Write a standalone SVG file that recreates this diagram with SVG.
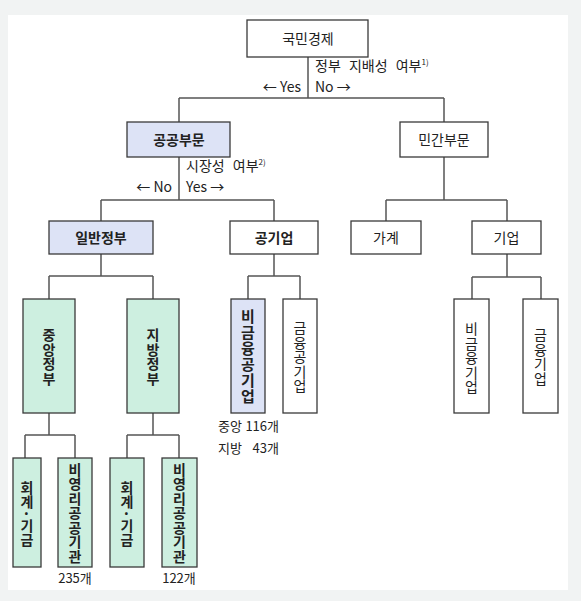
<svg xmlns="http://www.w3.org/2000/svg" width="581" height="601" viewBox="0 0 581 601">
<style>
text{font-family:"Noto Sans CJK KR","Malgun Gothic",sans-serif;font-size:14px;fill:#222}
.b{font-weight:bold}
.box{fill:#fff;stroke:#3a3a3a;stroke-width:1.3}
.lav{fill:#dde3f6}
.grn{fill:#cdefe0}
.con{fill:none;stroke:#555;stroke-width:1.5}
.m{text-anchor:middle}
.sm{font-size:13px}
.v{writing-mode:vertical-rl;text-anchor:middle;letter-spacing:0.5px}
.ws{word-spacing:5px}
</style>
<rect x="0" y="0" width="581" height="601" fill="#f1f3f3"/>
<rect x="8" y="15" width="560" height="575" fill="#fff"/>
<g id="connectors" class="con">
<path d="M308 57V98M179 98H444M179 98V122M444 98V122"/>
<path d="M179 157V200M101 200H274M101 200V221M274 200V221"/>
<path d="M444 157V200M386 200H507M386 200V221M507 200V221"/>
<path d="M101 254V276M49 276H153M49 276V299M153 276V299"/>
<path d="M274 254V276M248 276H300M248 276V299M300 276V299"/>
<path d="M507 254V277M472 277H541M472 277V299M541 277V299"/>
<path d="M49 413V435M25 435H75M25 435V458M75 435V458"/>
<path d="M153 413V435M127 435H179M127 435V458M179 435V458"/>
</g>
<g id="labels">
<text x="315" y="71" class="ws">정부 지배성 여부<tspan font-size="8" dy="-6">1)</tspan></text>
<text x="301" y="92" text-anchor="end">← Yes</text>
<text x="315" y="92">No →</text>
<text x="186" y="171" class="ws">시장성 여부<tspan font-size="8" dy="-6">2)</tspan></text>
<text x="172" y="192" text-anchor="end">← No</text>
<text x="186" y="192">Yes →</text>
<text x="218" y="431" class="sm">중앙</text>
<text x="279" y="431" class="sm" text-anchor="end">116개</text>
<text x="218" y="453" class="sm">지방</text>
<text x="279" y="453" class="sm" text-anchor="end">43개</text>
<text x="75" y="583" class="sm m">235개</text>
<text x="179" y="583" class="sm m">122개</text>
</g>
<g id="n-national"><rect class="box" x="247" y="20" width="121" height="37"/><text class="m" x="308" y="44">국민경제</text></g>
<g id="n-public"><rect class="box lav" x="127" y="122" width="103" height="35"/><text class="m b" x="179" y="145">공공부문</text></g>
<g id="n-private"><rect class="box" x="400" y="122" width="88" height="35"/><text class="m" x="444" y="145">민간부문</text></g>
<g id="n-gengov"><rect class="box lav" x="49" y="221" width="104" height="33"/><text class="m b" x="101" y="243">일반정부</text></g>
<g id="n-pubcorp"><rect class="box" x="230" y="221" width="88" height="33"/><text class="m b" x="274" y="243">공기업</text></g>
<g id="n-household"><rect class="box" x="351" y="221" width="70" height="33"/><text class="m" x="386" y="243">가계</text></g>
<g id="n-firm"><rect class="box" x="472" y="221" width="69" height="33"/><text class="m" x="506.5" y="243">기업</text></g>
<g id="n-central"><rect class="box grn" x="23" y="299" width="52" height="114"/><text class="v b" x="49" y="357">중앙정부</text></g>
<g id="n-local"><rect class="box grn" x="127" y="299" width="52" height="114"/><text class="v b" x="153" y="357">지방정부</text></g>
<g id="n-nfpc"><rect class="box lav" x="231" y="299" width="34" height="114"/><text class="v b" x="248" y="357" style="font-size:15px;letter-spacing:1px">비금융공기업</text></g>
<g id="n-fpc"><rect class="box" x="283" y="299" width="34" height="114"/><text class="v" x="300" y="357">금융공기업</text></g>
<g id="n-nff"><rect class="box" x="454" y="299" width="35" height="114"/><text class="v" x="471.5" y="358">비금융기업</text></g>
<g id="n-ff"><rect class="box" x="523" y="299" width="35" height="114"/><text class="v" x="540.5" y="357">금융기업</text></g>
<g id="n-cfund"><rect class="box grn" x="13" y="458" width="28" height="109"/><text class="v b" x="27" y="514">회계·기금</text></g>
<g id="n-cnp"><rect class="box grn" x="58" y="458" width="34" height="109"/><text class="v b" x="75" y="513">비영리공공기관</text></g>
<g id="n-lfund"><rect class="box grn" x="110" y="458" width="34" height="109"/><text class="v b" x="127" y="514">회계·기금</text></g>
<g id="n-lnp"><rect class="box grn" x="162" y="458" width="35" height="109"/><text class="v b" x="179.5" y="513">비영리공공기관</text></g>
</svg>
